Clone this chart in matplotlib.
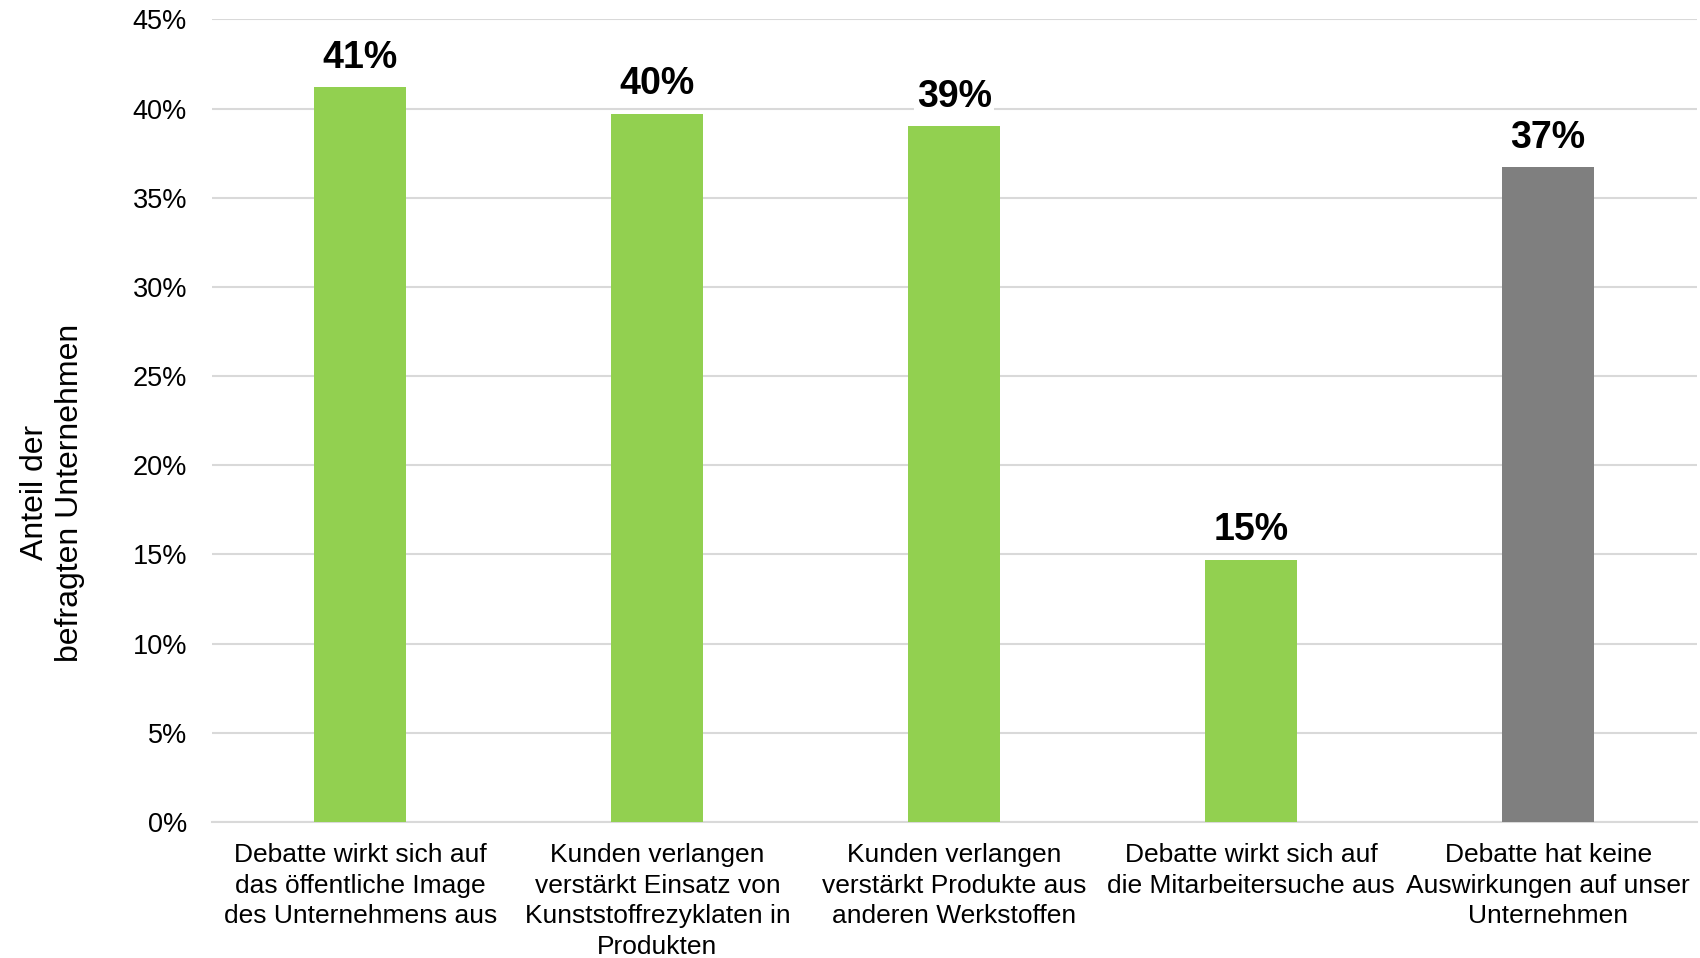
import matplotlib
matplotlib.use("Agg")
import matplotlib.pyplot as plt
from matplotlib.ticker import FuncFormatter

categories = [
    "Debatte wirkt sich auf\ndas öffentliche Image\ndes Unternehmens aus",
    "Kunden verlangen\nverstärkt Einsatz von\nKunststoffrezyklaten in\nProdukten",
    "Kunden verlangen\nverstärkt Produkte aus\nanderen Werkstoffen",
    "Debatte wirkt sich auf\ndie Mitarbeitersuche aus",
    "Debatte hat keine\nAuswirkungen auf unser\nUnternehmen",
]
values = [41.2, 39.7, 39.0, 14.7, 36.7]
labels = ["41%", "40%", "39%", "15%", "37%"]
colors = ["#92D050", "#92D050", "#92D050", "#92D050", "#7F7F7F"]
yticks = [0, 5, 10, 15, 20, 25, 30, 35, 40, 45]

plt.rcParams['font.family'] = ['Liberation Sans', 'DejaVu Sans']

fig = plt.figure(figsize=(17, 9.58), dpi=100)
ax = fig.add_axes([0.1247, 0.142, 0.8733, 0.8377])

x = list(range(len(categories)))
ax.bar(x, values, width=0.31, color=colors, zorder=3)
ax.set_xlim(-0.5, len(categories) - 0.5)
ax.set_ylim(0, 45)
ax.set_yticks(yticks)
ax.yaxis.set_major_formatter(FuncFormatter(lambda v, p: f"{int(v)}%"))
ax.grid(axis='y', color='#D9D9D9', linewidth=1.5, zorder=0)
ax.set_axisbelow(True)
for s in ['top', 'right', 'left']:
    ax.spines[s].set_visible(False)
ax.spines['bottom'].set_color('#D9D9D9')
ax.spines['bottom'].set_linewidth(1.5)
ax.tick_params(axis='y', length=0, pad=18, labelsize=19.5)
ax.tick_params(axis='x', length=0, pad=15, labelsize=19)
ax.set_xticks(x)
ax.set_xticklabels(categories, linespacing=1.36)

for xi, v, lab in zip(x, values, labels):
    ax.text(xi, v + 0.65, lab, ha='center', va='bottom', fontsize=27,
            fontweight='bold', zorder=4,
            bbox=dict(facecolor='white', edgecolor='none', pad=2))

ax.set_ylabel("Anteil der\nbefragten Unternehmen", fontsize=23, linespacing=1.2)
ax.yaxis.set_label_coords(-0.0855, 0.41)

fig.savefig("out.png", dpi=100)
